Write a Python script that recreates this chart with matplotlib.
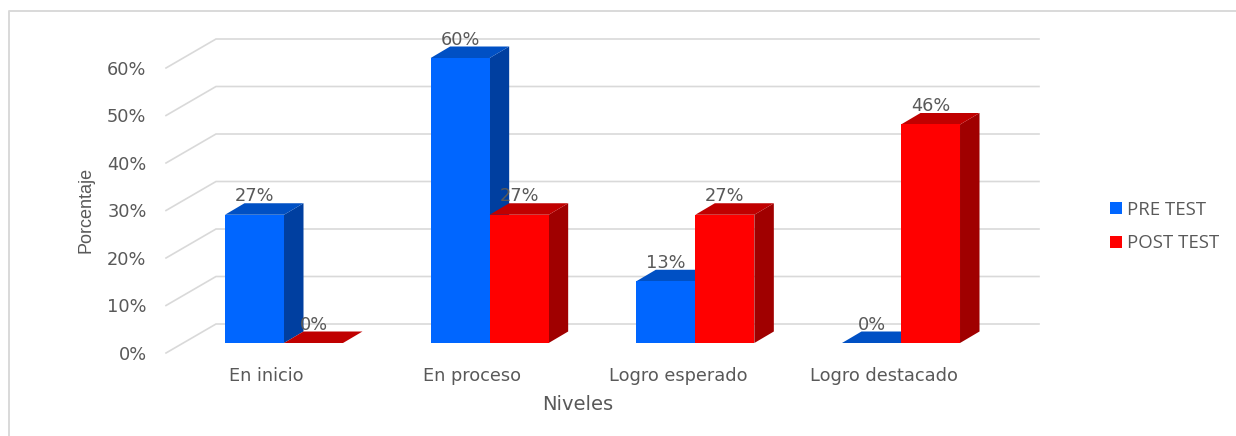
import matplotlib
matplotlib.use("Agg")
import matplotlib.pyplot as plt
from matplotlib.patches import Polygon, Rectangle
from matplotlib.lines import Line2D

categories = ["En inicio", "En proceso", "Logro esperado", "Logro destacado"]
pre_test = [27, 60, 13, 0]
post_test = [0, 27, 27, 46]
series_names = ["PRE TEST", "POST TEST"]
y_ticks = [0, 10, 20, 30, 40, 50, 60]

W, H = 1236, 436
GROUP_PX = 205.67
Y_PX = 4.75
BAR_W = 59 / GROUP_PX
LEFT, RIGHT, TOP, BOTTOM = 166, 1039, 38, 353
X0_PX = 284
FONT = "DejaVu Sans"
TXT = "#595959"

BLUE = ("#0066FF", "#0050C4", "#003FA0")
RED = ("#FF0000", "#C00000", "#A00000")

fig = plt.figure(figsize=(W / 100, H / 100), dpi=100, facecolor="white")
ax = fig.add_axes([LEFT / W, 1 - BOTTOM / H, (RIGHT - LEFT) / W, (BOTTOM - TOP) / H])
ax.set_xlim((LEFT - X0_PX) / GROUP_PX, (RIGHT - X0_PX) / GROUP_PX)
ax.set_ylim(0, (BOTTOM - TOP) / Y_PX)
ax.patch.set_visible(False)
for s in ax.spines.values():
    s.set_visible(False)

# depth of the pseudo-3D box, in data units
BASE = 10 / Y_PX
DX, DY = 19.5 / GROUP_PX, 11.5 / Y_PX
WALL_X, WALL_Y = 50 / GROUP_PX, 29 / Y_PX
x_left = ax.get_xlim()[0]
x_right = ax.get_xlim()[1]

for t in y_ticks:
    ax.plot([x_left, x_left + WALL_X, x_right], [t, t + WALL_Y, t + WALL_Y],
            color="#D9D9D9", lw=1.2, zorder=1, clip_on=False, solid_joinstyle="miter")


def bar3d(x, value, cols, z):
    y0, y1 = BASE, BASE + value
    ax.add_patch(Polygon([(x + BAR_W, y0), (x + BAR_W + DX, y0 + DY),
                          (x + BAR_W + DX, y1 + DY), (x + BAR_W, y1)],
                         fc=cols[2], ec="none", zorder=z))
    ax.add_patch(Polygon([(x, y1), (x + DX, y1 + DY),
                          (x + BAR_W + DX, y1 + DY), (x + BAR_W, y1)],
                         fc=cols[1], ec="none", zorder=z))
    ax.bar(x, value, BAR_W, bottom=y0, align="edge", color=cols[0], lw=0, zorder=z + 0.1)


for i, (a, b) in enumerate(zip(pre_test, post_test)):
    for x, v, cols, z in ((i - BAR_W, a, BLUE, 4), (i, b, RED, 5)):
        ax.text(x + BAR_W / 2, v + BASE + DY + 0.4, f"{v}%", ha="center", va="baseline",
                fontsize=12.8, family=FONT, color=TXT, zorder=10)
        bar3d(x, v, cols, z)

ax.set_yticks(y_ticks, [f"{t}%" for t in y_ticks])
ax.set_xticks([i - 0.085 for i in range(len(categories))], categories)
ax.tick_params(axis="y", length=0, pad=14, labelsize=12.8, labelcolor=TXT)
ax.tick_params(axis="x", length=0, pad=10, labelsize=12.8, labelcolor=TXT)
for lab in ax.get_xticklabels() + ax.get_yticklabels():
    lab.set_family(FONT)

fig.text(578 / W, 1 - 404 / H, "Niveles", ha="center", va="center", fontsize=14, family=FONT, color=TXT)
fig.text(85.5 / W, 1 - 210 / H, "Porcentaje", rotation=90, ha="center", va="center",
         fontsize=13, family="Liberation Sans", color=TXT)

handles = [Rectangle((0, 0), 1, 1, fc=BLUE[0]), Rectangle((0, 0), 1, 1, fc=RED[0])]
fig.legend(handles, series_names, loc="center left", bbox_to_anchor=(1110 / W, 1 - 226.5 / H),
           frameon=False, prop={"family": "Open Sans", "size": 13.4}, labelcolor=TXT,
           handlelength=0.66, handleheight=0.65, handletextpad=0.25, labelspacing=0.85,
           borderpad=0, borderaxespad=0)

fig.add_artist(Line2D([9 / W, 9 / W, 1], [0, 1 - 11 / H, 1 - 11 / H], color="#D9D9D9", lw=1.4))
fig.savefig("out.png", dpi=100)
